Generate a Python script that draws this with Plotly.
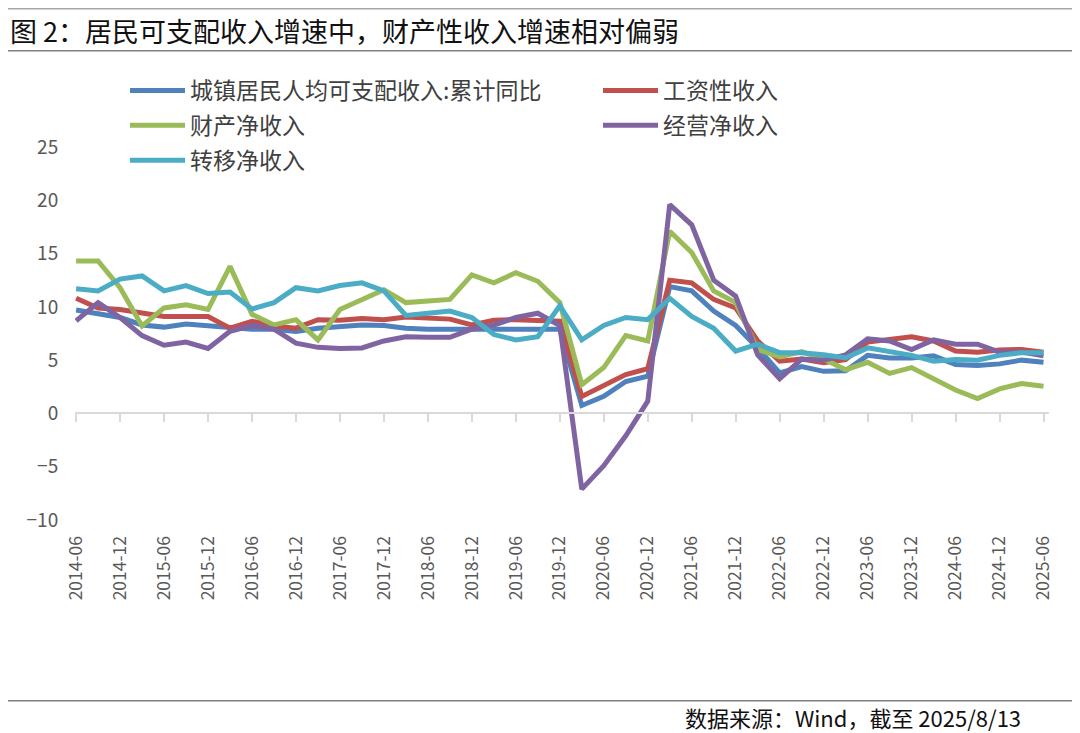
import plotly.graph_objects as go

# quarterly categories 2014-06 .. 2025-06
quarters = [f"{y}-{m:02d}" for y in range(2014, 2026) for m in (3, 6, 9, 12)]
categories = quarters[quarters.index("2014-06"):quarters.index("2025-06") + 1]
tick_labels = categories[::2]

urban_total = [9.7, 9.3, 9.0, 8.3, 8.1, 8.4, 8.25, 8.0, 7.9, 7.9, 7.7, 8.0, 8.2, 8.3, 8.25,
               8.0, 7.9, 7.9, 7.9, 7.9, 8.0, 7.95, 7.9, 0.75, 1.6, 3.0, 3.5, 11.9, 11.5, 9.6,
               8.25, 6.15, 3.8, 4.4, 3.95, 4.0, 5.45, 5.2, 5.2, 5.4, 4.6, 4.5, 4.65, 5.0, 4.8]
wage = [10.8, 9.9, 9.75, 9.4, 9.1, 9.1, 9.1, 8.0, 8.65, 8.2, 8.0, 8.8, 8.75, 8.9, 8.8,
        9.05, 9.0, 8.85, 8.3, 8.75, 8.8, 8.75, 8.65, 1.6, 2.6, 3.65, 4.2, 12.5, 12.25, 10.7,
        9.9, 6.8, 4.9, 5.1, 4.75, 5.05, 6.7, 6.9, 7.2, 6.8, 5.85, 5.75, 5.95, 6.0, 5.75]
property_inc = [14.3, 14.3, 11.8, 8.2, 9.9, 10.2, 9.75, 13.8, 9.3, 8.3, 8.8, 6.9, 9.75, 10.7, 11.6,
                10.4, 10.6, 10.7, 13.0, 12.25, 13.2, 12.4, 10.4, 2.7, 4.3, 7.3, 6.8, 17.1, 15.1, 11.5,
                10.4, 6.0, 5.3, 5.8, 5.1, 4.1, 4.8, 3.75, 4.3, 3.25, 2.2, 1.4, 2.3, 2.8, 2.55]
business = [8.7, 10.4, 9.0, 7.3, 6.4, 6.7, 6.1, 7.7, 8.25, 7.9, 6.6, 6.2, 6.1, 6.15, 6.8,
            7.2, 7.15, 7.15, 7.9, 8.3, 9.0, 9.4, 8.25, -7.1, -4.9, -2.1, 1.15, 19.6, 17.7, 12.5,
            11.0, 5.5, 3.25, 5.1, 5.0, 5.5, 7.0, 6.8, 6.0, 6.9, 6.5, 6.5, 5.75, 5.75, 5.4]
transfer = [11.7, 11.5, 12.6, 12.9, 11.5, 12.0, 11.25, 11.4, 9.8, 10.4, 11.8, 11.5, 12.0, 12.25, 11.5,
            9.2, 9.4, 9.6, 9.0, 7.4, 6.9, 7.2, 10.1, 6.9, 8.25, 9.0, 8.8, 10.8, 9.1, 8.0,
            5.85, 6.5, 5.7, 5.7, 5.5, 5.2, 6.15, 5.85, 5.45, 4.9, 5.05, 5.0, 5.45, 5.7, 5.7]

series_names = ["城镇居民人均可支配收入:累计同比", "工资性收入", "财产净收入", "经营净收入", "转移净收入"]
series_values = [urban_total, wage, property_inc, business, transfer]
series_colors = ["#4F81BD", "#C0504D", "#9BBB59", "#8064A2", "#4BACC6"]
series_legend = ["legend", "legend2", "legend", "legend2", "legend"]  # two legend columns

y_ticks = [-10, -5, 0, 5, 10, 15, 20, 25]

FONT = "Noto Sans CJK SC"

fig = go.Figure()
for i, (name, vals, col, lg) in enumerate(zip(series_names, series_values, series_colors, series_legend)):
    fig.add_trace(go.Scatter(x=categories, y=vals, name=name, mode="lines",
                             line=dict(color=col, width=5), legend=lg, legendgroup=f"g{i}"))

# page has an 8px body margin, so the figure is sized to fit the 1080x733 window
W, H = 1072, 725
ml, mr, mt, mb = 67, 31, 139, 213
PW, PH = W - ml - mr, H - mt - mb
y_range = [-10, 25]
zero_pos = (0 - y_range[0]) / (y_range[1] - y_range[0])


def px_x(px):
    return (px - ml) / PW


def px_y(py):
    return 1 - (py - mt) / PH


legend_common = dict(xanchor="left", yanchor="top", orientation="v", traceorder="grouped",
                     font=dict(family=FONT, size=23, color="#404040"),
                     bgcolor="rgba(0,0,0,0)", itemwidth=55, tracegroupgap=2)

fig.update_layout(
    width=W, height=H,
    margin=dict(l=ml, r=mr, t=mt, b=mb),
    paper_bgcolor="white", plot_bgcolor="white",
    font=dict(family=FONT, color="#595959"),
    showlegend=True,
    legend=dict(x=px_x(117), y=px_y(61), **legend_common),
    legend2=dict(x=px_x(590), y=px_y(61), **legend_common),
    xaxis=dict(type="category", range=[-0.05, 44.25], showgrid=False, zeroline=False,
               showline=False, tickmode="array", tickvals=tick_labels, ticktext=tick_labels,
               tickangle=-90, ticks="outside", ticklen=8, tickcolor="rgba(0,0,0,0)",
               tickfont=dict(family=FONT, size=17.5, color="#595959")),
    xaxis2=dict(type="category", overlaying="x", matches="x", anchor="free", position=zero_pos,
                side="bottom", showgrid=False, zeroline=False, showline=True,
                linecolor="#D9D9D9", linewidth=2, ticks="outside", ticklen=8, tickwidth=2,
                tickcolor="#D9D9D9", tickmode="array", tickvals=tick_labels,
                showticklabels=False),
    yaxis=dict(range=y_range, tickvals=y_ticks, showgrid=False, zeroline=False, showline=False,
               ticks="outside", ticklen=12, tickcolor="rgba(0,0,0,0)",
               tickfont=dict(family=FONT, size=19, color="#595959")),
)

# helper invisible trace so xaxis2 (the zero axis line with its ticks) is rendered
fig.add_trace(go.Scatter(x=[categories[0]], y=[None], xaxis="x2", showlegend=False,
                         hoverinfo="skip", mode="lines"))

# title and frame lines
for py, col in ((0.8, "#A6A6A6"), (42.7, "#808080"), (692.7, "#808080")):
    fig.add_shape(type="line", xref="paper", yref="paper", x0=px_x(0), x1=px_x(W),
                  y0=px_y(py), y1=px_y(py), line=dict(color=col, width=1.5))

fig.add_annotation(text="图 2：居民可支配收入增速中，财产性收入增速相对偏弱",
                   xref="paper", yref="paper", x=px_x(0), y=px_y(22),
                   xanchor="left", yanchor="middle",
                   showarrow=False, font=dict(family=FONT, size=27, color="#111111"))
fig.add_annotation(text="数据来源：Wind，截至 2025/8/13",
                   xref="paper", yref="paper", x=px_x(1015), y=px_y(709),
                   xanchor="right", yanchor="middle",
                   showarrow=False, font=dict(family=FONT, size=22, color="#111111"))

fig.write_html("out.html")
